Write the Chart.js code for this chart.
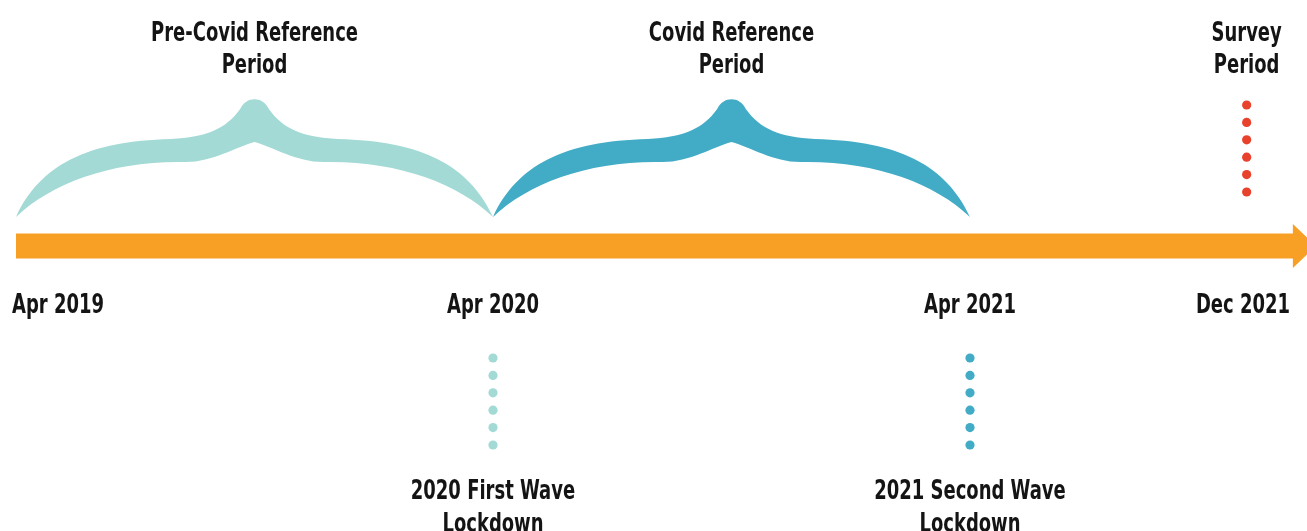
<!DOCTYPE html>
<html>
<head>
<meta charset="utf-8">
<script src="https://cdn.jsdelivr.net/npm/chart.js@4.4.0/dist/chart.umd.min.js"></script>
<style>
  html, body { margin: 0; padding: 0; background: #fff; }
  #wrap { width: 1307px; height: 531px; }
</style>
</head>
<body>
<div id="wrap"><canvas id="timeline" width="1307" height="531"></canvas></div>
<script>
// timeline milestones (diagram is not to scale: one step = one year, Dec 2021 squeezed in)
var milestoneLabels = ["Apr 2019", "Apr 2020", "Apr 2021", "Dec 2021"];
var milestoneSteps = [0, 1, 2, 2.58];

// reference periods shown as braces above the arrow
var periodLines = [["Pre-Covid Reference", "Period"], ["Covid Reference", "Period"]];
var periodStart = [0, 1];
var periodEnd = [1, 2];
var periodColors = ["#A3DAD5", "#42ACC6"];

// events below the arrow
var eventLines = [["2020 First Wave", "Lockdown"], ["2021 Second Wave", "Lockdown"]];
var eventSteps = [1, 2];
var eventColors = ["#A3DAD5", "#42ACC6"];

// survey marker above the arrow
var surveyLines = ["Survey", "Period"];
var surveyStep = 2.58;
var surveyColor = "#E8412C";

// layout (y axis runs in pixels from the top)
var ARROW_Y = 246, ARROW_END = 2.679, BRACE_Y = 217, DOT_GAP = 17.4, DOTS = 6;
var FONT = "bold 27px 'DejaVu Sans Condensed', 'Liberation Sans Narrow', sans-serif";
var SQUEEZE = 0.74;

function dotColumn(step, top) {
  var pts = [];
  for (var i = 0; i < DOTS; i++) pts.push({x: step, y: top + i * DOT_GAP});
  return pts;
}

var datasets = [{
  type: 'line',
  data: [{x: milestoneSteps[0], y: ARROW_Y}, {x: ARROW_END, y: ARROW_Y}],
  borderColor: '#F7A025',
  borderWidth: 25,
  borderCapStyle: 'butt',
  pointRadius: 0,
  clip: false
}];
eventSteps.forEach(function (s, i) {
  datasets.push({type: 'scatter', data: dotColumn(s, 358), pointRadius: 4.6,
    backgroundColor: eventColors[i], borderWidth: 0});
});
datasets.push({type: 'scatter', data: dotColumn(surveyStep, 105), pointRadius: 4.6,
  backgroundColor: surveyColor, borderWidth: 0});

function drawText(ctx, lines, x, y, lh) {
  ctx.save();
  ctx.font = FONT;
  ctx.fillStyle = '#141414';
  ctx.textBaseline = 'alphabetic';
  ctx.textAlign = 'center';
  lines.forEach(function (t, i) {
    var half = ctx.measureText(t).width * SQUEEZE / 2;
    var cx = Math.min(Math.max(x, half + 12), 1307 - half - 17);
    ctx.save();
    ctx.translate(cx, y + i * lh);
    ctx.scale(SQUEEZE, 1);
    ctx.fillText(t, 0, 0);
    ctx.restore();
  });
  ctx.restore();
}

function brace(ctx, x0, x1, by, color) {
  var cx = (x0 + x1) / 2, h = (x1 - x0) / 2;
  ctx.save();
  ctx.fillStyle = color;
  ctx.beginPath();
  ctx.moveTo(x0, by);
  // outer edge, left to right
  ctx.bezierCurveTo(cx - 0.9 * h, by - 52, cx - 0.7 * h, by - 76, cx - 0.35 * h, by - 78);
  ctx.bezierCurveTo(cx - 0.2 * h, by - 80, cx - 0.12 * h, by - 88, cx - 0.06 * h, by - 108);
  ctx.bezierCurveTo(cx - 0.035 * h, by - 121, cx + 0.035 * h, by - 121, cx + 0.06 * h, by - 108);
  ctx.bezierCurveTo(cx + 0.12 * h, by - 88, cx + 0.2 * h, by - 80, cx + 0.35 * h, by - 78);
  ctx.bezierCurveTo(cx + 0.7 * h, by - 76, cx + 0.9 * h, by - 52, x1, by);
  // inner edge, right to left
  ctx.bezierCurveTo(cx + 0.85 * h, by - 34, cx + 0.6 * h, by - 56, cx + 0.3 * h, by - 55);
  ctx.bezierCurveTo(cx + 0.18 * h, by - 54, cx + 0.08 * h, by - 70, cx, by - 75);
  ctx.bezierCurveTo(cx - 0.08 * h, by - 70, cx - 0.18 * h, by - 54, cx - 0.3 * h, by - 55);
  ctx.bezierCurveTo(cx - 0.6 * h, by - 56, cx - 0.85 * h, by - 34, x0, by);
  ctx.closePath();
  ctx.fill();
  ctx.restore();
}

var timelinePlugin = {
  id: 'timelineDecor',
  beforeDatasetsDraw: function (chart) {
    var ctx = chart.ctx, xs = chart.scales.x, ys = chart.scales.y;
    periodStart.forEach(function (s, i) {
      brace(ctx, xs.getPixelForValue(s), xs.getPixelForValue(periodEnd[i]),
        ys.getPixelForValue(BRACE_Y), periodColors[i]);
    });
  },
  afterDatasetsDraw: function (chart) {
    var ctx = chart.ctx, xs = chart.scales.x, ys = chart.scales.y;
    // arrow head
    var hx = xs.getPixelForValue(ARROW_END), ay = ys.getPixelForValue(ARROW_Y);
    ctx.save();
    ctx.fillStyle = '#F7A025';
    ctx.beginPath();
    ctx.moveTo(hx - 1, ay - 22);
    ctx.lineTo(hx + 22, ay);
    ctx.lineTo(hx - 1, ay + 22);
    ctx.closePath();
    ctx.fill();
    ctx.restore();

    milestoneLabels.forEach(function (t, i) {
      drawText(ctx, [t], xs.getPixelForValue(milestoneSteps[i]), ys.getPixelForValue(313), 32);
    });
    periodLines.forEach(function (lines, i) {
      var mid = (periodStart[i] + periodEnd[i]) / 2;
      drawText(ctx, lines, xs.getPixelForValue(mid), ys.getPixelForValue(41), 32);
    });
    eventLines.forEach(function (lines, i) {
      drawText(ctx, lines, xs.getPixelForValue(eventSteps[i]), ys.getPixelForValue(499), 33);
    });
    drawText(ctx, surveyLines, xs.getPixelForValue(surveyStep), ys.getPixelForValue(41), 32);
  }
};

var ctxT = document.getElementById("timeline").getContext('2d');
var timelineChart = new Chart(ctxT, {
  type: 'scatter',
  data: { datasets: datasets },
  options: {
    responsive: false,
    animation: false,
    layout: { padding: 0, autoPadding: false },
    plugins: { legend: { display: false }, tooltip: { enabled: false } },
    scales: {
      x: { type: 'linear', display: false, min: -16 / 477, max: 1291 / 477 },
      y: { type: 'linear', display: false, min: 0, max: 531, reverse: true }
    }
  },
  plugins: [timelinePlugin]
});
</script>
</body>
</html>
